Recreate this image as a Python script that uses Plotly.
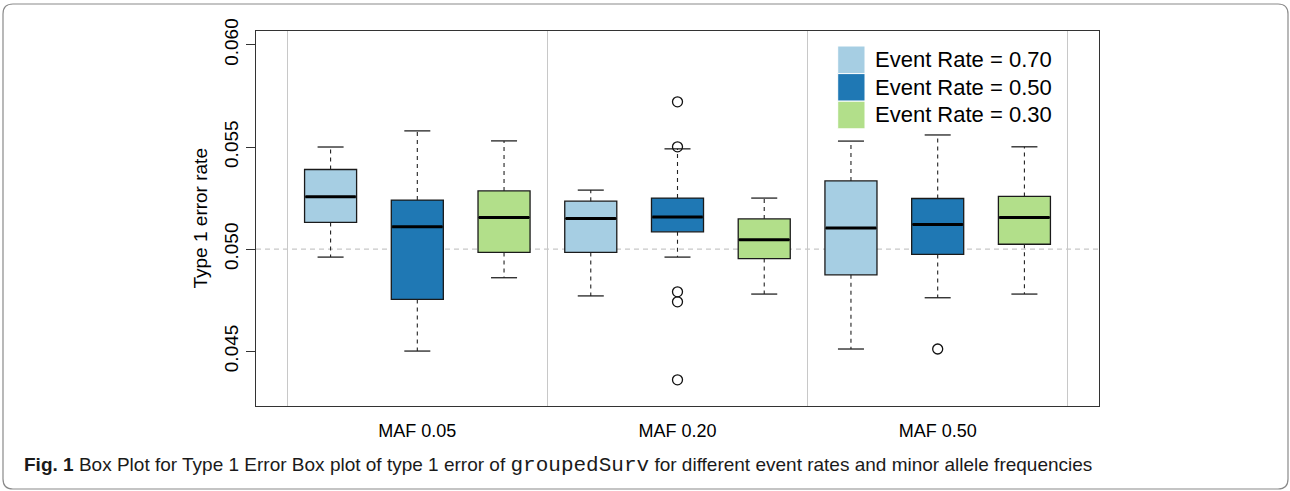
import plotly.graph_objects as go

# ---------------- data ----------------
groups = ["MAF 0.05", "MAF 0.20", "MAF 0.50"]
rate_labels = ["Event Rate = 0.70", "Event Rate = 0.50", "Event Rate = 0.30"]
colors = ["#A6CEE3", "#1F78B4", "#B2DF8A"]

# per event rate, values across the three MAF groups
lower_70 = [0.04961, 0.04771, 0.04511]
q1_70 = [0.05131, 0.04984, 0.04874]
med_70 = [0.05256, 0.05150, 0.05103]
q3_70 = [0.05390, 0.05235, 0.05334]
upper_70 = [0.05500, 0.05289, 0.05529]

lower_50 = [0.04501, 0.04961, 0.04762]
q1_50 = [0.04754, 0.05085, 0.04974]
med_50 = [0.05109, 0.05157, 0.05121]
q3_50 = [0.05240, 0.05250, 0.05248]
upper_50 = [0.05579, 0.05491, 0.05559]

lower_30 = [0.04860, 0.04780, 0.04780]
q1_30 = [0.04984, 0.04954, 0.05024]
med_30 = [0.05155, 0.05046, 0.05155]
q3_30 = [0.05285, 0.05148, 0.05258]
upper_30 = [0.05530, 0.05250, 0.05501]

# outliers: (group index, rate index, value)
out_group = [1, 1, 1, 1, 1, 2]
out_rate = [1, 1, 1, 1, 1, 1]
out_vals = [0.05721, 0.05501, 0.04791, 0.04742, 0.04360, 0.04511]

y_ticks = [0.045, 0.050, 0.055, 0.060]
y_lim = [0.043, 0.060]
ref_line = 0.050

stats = [
    (lower_70, q1_70, med_70, q3_70, upper_70),
    (lower_50, q1_50, med_50, q3_50, upper_50),
    (lower_30, q1_30, med_30, q3_30, upper_30),
]

# ---------------- layout geometry ----------------
W, H = 1290, 491
L, R, T, B = 256, 191, 31, 85
PW, PH = W - L - R, H - T - B


def px(x):
    return (x - L) / PW


def py(y):
    return (H - B - y) / PH


BOXW = 0.6
CAPW = 0.3
ngroup, nrate = len(groups), len(rate_labels)


def pos(g, r):
    return g * (nrate) + r + 1


fig = go.Figure()

# boxes
for r in range(nrate):
    lo, q1, md, q3, up = stats[r]
    xs = [pos(g, r) for g in range(ngroup)]
    fig.add_trace(go.Box(
        x=xs, q1=q1, median=md, q3=q3, lowerfence=q1, upperfence=q3,
        width=BOXW, whiskerwidth=0, fillcolor=colors[r],
        line=dict(color="#1a1a1a", width=1.3), boxpoints=False,
        name=rate_labels[r], showlegend=False, hoverinfo="skip",
    ))

# whiskers (dashed), caps and medians
wx, wy, cx, cy, mx, my = [], [], [], [], [], []
for r in range(nrate):
    lo, q1, md, q3, up = stats[r]
    for g in range(ngroup):
        x = pos(g, r)
        wx += [x, x, None, x, x, None]
        wy += [q3[g], up[g], None, q1[g], lo[g], None]
        cx += [x - CAPW / 2, x + CAPW / 2, None, x - CAPW / 2, x + CAPW / 2, None]
        cy += [up[g], up[g], None, lo[g], lo[g], None]
        mx += [x - BOXW / 2 + 0.01, x + BOXW / 2 - 0.01, None]
        my += [md[g], md[g], None]

fig.add_trace(go.Scatter(x=wx, y=wy, mode="lines", line=dict(color="#222", width=1.1, dash="4px,4px"),
                         showlegend=False, hoverinfo="skip"))
fig.add_trace(go.Scatter(x=cx, y=cy, mode="lines", line=dict(color="#222", width=1.3),
                         showlegend=False, hoverinfo="skip"))
fig.add_trace(go.Scatter(x=mx, y=my, mode="lines", line=dict(color="#000", width=3),
                         showlegend=False, hoverinfo="skip"))

# outliers
fig.add_trace(go.Scatter(
    x=[pos(g, r) for g, r in zip(out_group, out_rate)], y=out_vals, mode="markers",
    marker=dict(symbol="circle-open", size=10, color="#111", line=dict(width=1.3)),
    showlegend=False, hoverinfo="skip"))

shapes = []
# reference dashed line
shapes.append(dict(type="line", xref="paper", x0=0, x1=1, yref="y", y0=ref_line, y1=ref_line,
                   line=dict(color="#c8c8c8", width=1.2, dash="5px,4px"), layer="below"))

# legend squares
sq_x0, sq_x1 = px(837.7), px(865)
sq_top, sq_h = 46, 27.6
for i in range(nrate):
    shapes.append(dict(type="rect", xref="paper", yref="paper",
                       x0=sq_x0, x1=sq_x1, y0=py(sq_top + (i + 1) * sq_h), y1=py(sq_top + i * sq_h),
                       fillcolor=colors[i], line=dict(color="white", width=1)))

# outer rounded frame
fx0, fx1, fy0, fy1 = 3, 1288, 4, 489
rad = 10
rx, ry = rad / PW, rad / PH
X0, X1, Y0, Y1 = px(fx0), px(fx1), py(fy1), py(fy0)
path = (f"M {X0 + rx},{Y1} L {X1 - rx},{Y1} Q {X1},{Y1} {X1},{Y1 - ry} "
        f"L {X1},{Y0 + ry} Q {X1},{Y0} {X1 - rx},{Y0} L {X0 + rx},{Y0} "
        f"Q {X0},{Y0} {X0},{Y0 + ry} L {X0},{Y1 - ry} Q {X0},{Y1} {X0 + rx},{Y1} Z")
shapes.append(dict(type="path", xref="paper", yref="paper", path=path,
                   line=dict(color="#8a8a8a", width=1.2)))

annotations = []
for i in range(nrate):
    annotations.append(dict(xref="paper", yref="paper", x=px(873), y=py(sq_top + (i + 0.5) * sq_h),
                            xanchor="left", yanchor="middle", showarrow=False, text=rate_labels[i],
                            font=dict(family="Liberation Sans", size=22, color="#000")))

annotations.append(dict(xref="paper", yref="paper", x=px(200), y=0.5, textangle=-90,
                        xanchor="center", yanchor="middle", showarrow=False, text="Type 1 error rate",
                        font=dict(family="Liberation Sans", size=19, color="#000")))

caption = ("<b>Fig. 1</b> Box Plot for Type 1 Error Box plot of type 1 error of "
           "<span style='font-family:Liberation Mono;font-size:21px'>groupedSurv</span>"
           " for different event rates and minor allele frequencies")
annotations.append(dict(xref="paper", yref="paper", x=px(22), y=py(466), xanchor="left", yanchor="middle",
                        showarrow=False, text=caption,
                        font=dict(family="Liberation Sans", size=19, color="#1a1a1a")))

yr = y_lim[1] - y_lim[0]
fig.update_layout(
    width=W, height=H, margin=dict(l=L, r=R, t=T, b=B, autoexpand=False),
    paper_bgcolor="white", plot_bgcolor="white", boxmode="overlay",
    shapes=shapes, annotations=annotations, showlegend=False,
    xaxis=dict(range=[0.5 - 0.04 * 9, 9.5 + 0.04 * 9], tickvals=[pos(g, 1) for g in range(ngroup)],
               ticktext=groups, ticks="", showgrid=False, zeroline=False,
               showline=True, mirror=True, linecolor="#333", linewidth=1.2,
               tickfont=dict(family="Liberation Sans", size=18, color="#000"), ticklabelstandoff=8,
               minor=dict(tickvals=[0.5, 3.5, 6.5, 9.5], showgrid=True, gridcolor="#c8c8c8", gridwidth=1.2,
                          ticks=""),
               fixedrange=True),
    yaxis=dict(range=[y_lim[0] - 0.04 * yr, y_lim[1] + 0.04 * yr], tickvals=y_ticks,
               ticktext=[f"{v:.3f}" for v in y_ticks], ticks="outside", ticklen=9, tickwidth=1.1,
               tickcolor="#333", tickangle=-90, showgrid=False, zeroline=False,
               showline=True, mirror=True, linecolor="#333", linewidth=1.2,
               tickfont=dict(family="Liberation Sans", size=19, color="#000"),
               fixedrange=True),
)

fig.write_html("out.html", config={"displayModeBar": False},
               post_script="document.body.style.margin='0';")
